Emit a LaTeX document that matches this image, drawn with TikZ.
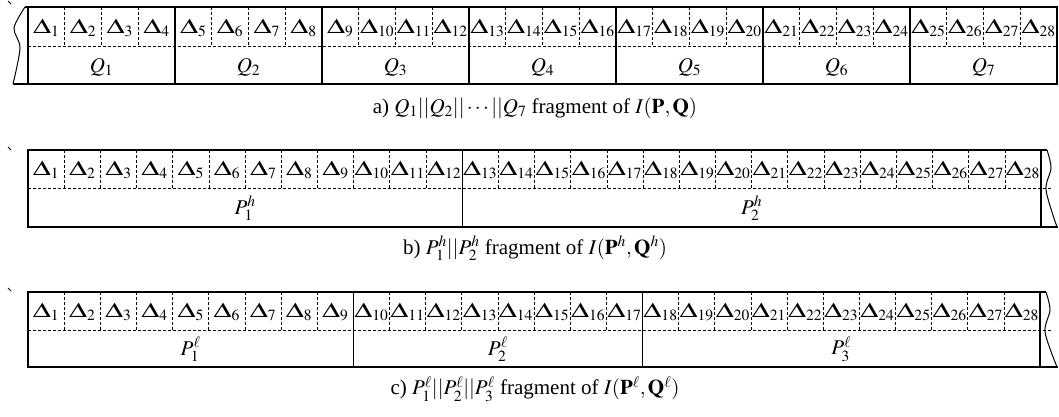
\documentclass[tikz,border=0pt]{standalone}
\usepackage{graphicx}
\usepackage{mathptmx}
\usepackage{fontspec}
\setmainfont{Liberation Serif}
\newcommand\Dl[1]{\scalebox{1.4}[1]{$\Delta$}_{#1}}
\tikzset{
  frame/.style={line width=1.3pt},
  sepline/.style={line width=0.6pt, densely dashed},
  grp/.style={line width=1.3pt},
  lbl/.style={inner sep=0pt},
  captext/.style={inner sep=0pt},
  wave/.style={line width=1pt},
  tickmark/.style={line width=0.8pt},
}
\begin{document}
\begin{tikzpicture}[x=1pt,y=-1pt,font=\fontsize{21}{24}\selectfont]
\useasboundingbox (0,0) rectangle (1059,416);
% ---------- row a ----------
\def\w{36.75}
\draw[tickmark] (8,1) -- (11,4);
\foreach \i in {1,...,27} \draw[sepline] ({28+\i*\w},7) -- ({28+\i*\w},46);
\draw[sepline] (28,46) -- (1057,46);
\foreach \i in {4,8,...,24} \draw[grp] ({28+\i*\w},7) -- ({28+\i*\w},84);
\draw[frame] (28,7) rectangle (1057,84);
\draw[frame] (25,7) -- (28,7);
\draw[frame] (13,84) -- (28,84);
\draw[wave] plot[smooth] coordinates {(25,7) (14,28) (20,48) (13,84)};
\foreach \i in {1,...,28} \node[lbl] (a\i) at ({28+(\i-0.5)*\w},28) {$\Dl{\i}$};
\foreach \j in {1,...,7} \node[lbl] (q\j) at ({28+(\j-0.5)*4*\w},67) {$Q_{\j}$};
\node[captext] (capa) at (535,108) {a) $Q_1||Q_2||\cdots||Q_7$ fragment of $I(\mathbf{P},\mathbf{Q})$};
% ---------- row b ----------
\def\wb{36.179}
\draw[tickmark] (8,147) -- (11,150);
\foreach \i in {1,...,27} \draw[sepline] ({28+\i*\wb},150) -- ({28+\i*\wb},188);
\draw[sepline] (28,188) -- (1052,188);
\draw[grp] ({28+12*\wb},150) -- ({28+12*\wb},227);
\draw[frame] (28,150) rectangle (1041,227);
\draw[frame] (1041,150) -- (1047,150);
\draw[frame] (1041,227) -- (1058,227);
\draw[wave] plot[smooth] coordinates {(1047,150) (1051,168) (1046,190) (1057,227)};
\foreach \i in {1,...,28} \node[lbl] (b\i) at ({28+(\i-0.5)*\wb},170) {$\Dl{\i}$};
\node[lbl] (ph1) at ({28+6*\wb},208) {$P_1^h$};
\node[lbl] (ph2) at ({28+20*\wb},208) {$P_2^h$};
\node[captext] (capb) at (535,248) {b) $P_1^h||P_2^h$ fragment of $I(\mathbf{P}^h,\mathbf{Q}^h)$};
% ---------- row c ----------
\def\wc{36.143}
\draw[tickmark] (8,288) -- (11,291);
\foreach \i in {1,...,27} \draw[sepline] ({28+\i*\wc},292) -- ({28+\i*\wc},330);
\draw[sepline] (28,330) -- (1051,330);
\foreach \i in {9,17} \draw[grp] ({28+\i*\wc},292) -- ({28+\i*\wc},367);
\draw[frame] (28,292) rectangle (1040,367);
\draw[frame] (1040,292) -- (1046,292);
\draw[frame] (1040,367) -- (1058,367);
\draw[wave] plot[smooth] coordinates {(1046,292) (1050,310) (1045,332) (1057,367)};
\foreach \i in {1,...,28} \node[lbl] (c\i) at ({28+(\i-0.5)*\wc},312) {$\Dl{\i}$};
\node[lbl] (pl1) at ({28+4.5*\wc},349) {$P_1^\ell$};
\node[lbl] (pl2) at ({28+13*\wc},349) {$P_2^\ell$};
\node[lbl] (pl3) at ({28+22.5*\wc},349) {$P_3^\ell$};
\node[captext] (capc) at (535,389) {c) $P_1^\ell||P_2^\ell||P_3^\ell$ fragment of $I(\mathbf{P}^\ell,\mathbf{Q}^\ell)$};
\end{tikzpicture}
\end{document}
